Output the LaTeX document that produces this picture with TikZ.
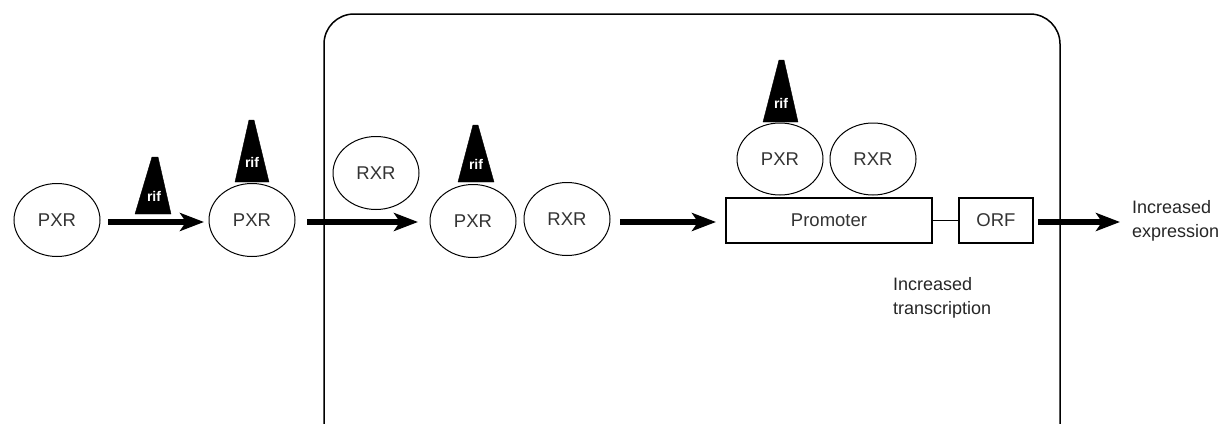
\documentclass[tikz,border=0pt]{standalone}
\usepackage{fontspec}
\setmainfont{Liberation Sans}
\usetikzlibrary{arrows.meta}
\tikzset{
  prot/.style={draw, line width=1pt, ellipse, minimum width=86pt, minimum height=73pt, inner sep=0pt, font=\fontsize{18.5}{20}\selectfont, text=black!80},
  rifcone/.style={fill=black, draw=black, line join=round},
  riftext/.style={text=white, font=\bfseries\fontsize{14}{14}\selectfont, inner sep=0pt},
  bigarrow/.style={line width=6pt, -{Stealth[length=24pt,width=18pt,inset=6pt]}},
  gene/.style={draw, line width=1.2pt, inner sep=0pt, font=\fontsize{18.5}{20}\selectfont, text=black!80},
  lbl/.style={align=left, font=\fontsize{18}{24}\selectfont, text=black!85, inner sep=0pt, anchor=west}
}
\usetikzlibrary{shapes.geometric}
\begin{document}
\begin{tikzpicture}[x=1pt,y=-1pt]
\useasboundingbox (0,0) rectangle (1225,423);
% cell box
\draw[line width=1.5pt, rounded corners=30pt] (324,424) -- (324,14) -- (1060,14) -- (1060,424);
% proteins
\node[prot] (p1) at (57,220) {PXR};
\node[prot] (p2) at (252,220) {PXR};
\node[prot] (r2) at (376,173) {RXR};
\node[prot] (p3) at (473,221) {PXR};
\node[prot] (r3) at (567,219) {RXR};
\node[prot, minimum height=72pt] (p4) at (780,159) {PXR};
\node[prot, minimum height=72pt] (r4) at (873,159) {RXR};
% rif cones
\draw[rifcone] (135,214) -- (152,157) -- (158,157) -- (171,214) -- cycle;
\node[riftext] (t1) at (154,196) {rif};
\draw[rifcone] (235,182) -- (249,120) -- (254,120) -- (269,182) -- cycle;
\node[riftext] (t2) at (252,162) {rif};
\draw[rifcone] (458,182) -- (473,125) -- (478,125) -- (494,182) -- cycle;
\node[riftext] (t3) at (476,164) {rif};
\draw[rifcone] (763,122) -- (779,60) -- (784,60) -- (798,122) -- cycle;
\node[riftext] (t4) at (781,103) {rif};
% gene
\node[gene, minimum width=206pt, minimum height=45pt] (prom) at (829,220.5) {Promoter};
\node[gene, minimum width=74pt, minimum height=45pt] (orf) at (996,220.5) {ORF};
\draw[line width=1pt] (prom.east) -- (orf.west);
% arrows
\coordinate (a1s) at (108,222); \coordinate (a1e) at (204,222);
\coordinate (a2s) at (307,222); \coordinate (a2e) at (418,222);
\coordinate (a3s) at (620,222); \coordinate (a3e) at (716,222);
\coordinate (a4s) at (1038,222); \coordinate (a4e) at (1120,222);
\draw[bigarrow] (a1s) -- (a1e);
\draw[bigarrow] (a2s) -- (a2e);
\draw[bigarrow] (a3s) -- (a3e);
\draw[bigarrow] (a4s) -- (a4e);
% labels
\node[lbl] (ie) at (1132,221) {Increased\\expression};
\node[lbl] (it) at (893,298) {Increased\\transcription};
\end{tikzpicture}
\end{document}
